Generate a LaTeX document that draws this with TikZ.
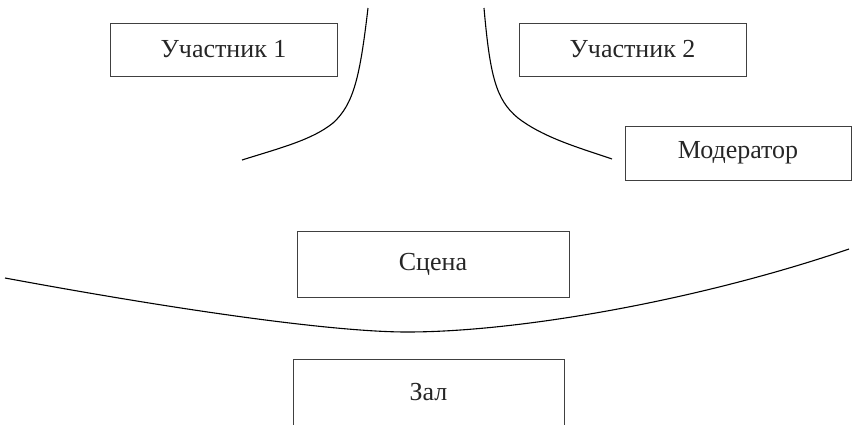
\documentclass[tikz,border=0pt]{standalone}
\usepackage{fontspec}
\setmainfont{Liberation Serif}
\usepackage{tikz}

\begin{document}
\begin{tikzpicture}
[every node/.style={inner sep=0pt}, place/.style={rectangle, draw=black!75, line width=0.5pt, text=black!85, font=\fontsize{13}{15}\selectfont}, border/.style={line width=0.55pt, color=black}]
\clip (0pt, 0pt) rectangle (426pt, -212pt);
\node (part1) [place, minimum width=113.5pt, minimum height=26.5pt] at (111.75pt, -24.75pt) {Участник 1};
\node (part2) [place, minimum width=113.5pt, minimum height=26.5pt] at (316.25pt, -24.75pt) {Участник 2};
\node (moder) [place, minimum width=113pt, minimum height=27pt] at (369pt, -76.5pt) {Модератор};
\node (stage) [place, minimum width=136pt, minimum height=33pt] at (216.5pt, -132pt) {Сцена};
\node (hall) [place, minimum width=135.5pt, minimum height=33pt] at (214.25pt, -196.25pt) {Зал};
\coordinate (wingLt) at (184pt, -4pt);
\coordinate (wingLb) at (121pt, -80pt);
\coordinate (wingRt) at (242pt, -4pt);
\coordinate (wingRb) at (306pt, -79.5pt);
\coordinate (edgeL) at (2.5pt, -139pt);
\coordinate (edgeM) at (203.5pt, -166pt);
\coordinate (edgeR) at (424.5pt, -124.5pt);
\draw [border] (wingLt) .. controls (180pt, -38pt) and (177pt, -52pt) .. (166.5pt, -61.5pt) .. controls (156pt, -70pt) and (140pt, -74pt) .. (wingLb);
\draw [border] (wingRt) .. controls (245pt, -38pt) and (248pt, -50pt) .. (259pt, -59pt) .. controls (272pt, -69pt) and (290pt, -74pt) .. (wingRb);
\draw [border] (edgeL) .. controls (100pt, -157pt) and (170pt, -166pt) .. (edgeM) .. controls (260pt, -166pt) and (350pt, -150pt) .. (edgeR);
\end{tikzpicture}
\end{document}
